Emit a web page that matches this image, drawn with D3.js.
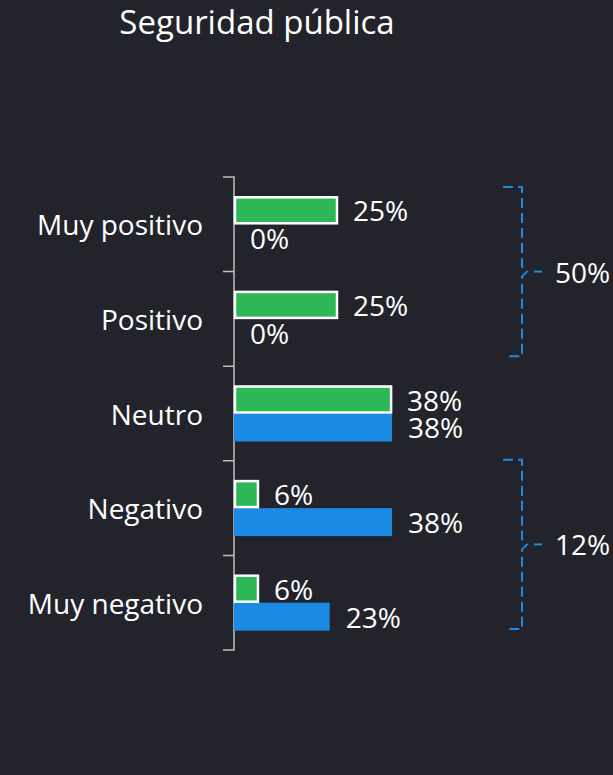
<!DOCTYPE html>
<html>
<head>
<meta charset="utf-8">
<script src="https://cdn.jsdelivr.net/npm/d3@7"></script>
<style>
body { margin: 0; background: #23242b; }
text { font-family: "Open Sans", "Noto Sans", sans-serif; fill: #ffffff; }
</style>
</head>
<body>
<script>
let categories = ["Muy positivo", "Positivo", "Neutro", "Negativo", "Muy negativo"];
let greenValues = [25, 25, 38, 6, 6];
let blueValues = [0, 0, 38, 38, 23];
let groups = [
  { from: "Muy positivo", to: "Positivo", label: "50%" },
  { from: "Negativo", to: "Muy negativo", label: "12%" }
];

let width = 613;
let height = 775;

let svg = d3.select("body").append("svg").attr("width", width).attr("height", height);

svg.append("rect")
.attr("width", width)
.attr("height", height)
.attr("fill", "#23242b");

svg.append("text")
.attr("x", 257)
.attr("y", 34)
.attr("text-anchor", "middle")
.style("font-size", "33px")
.text("Seguridad pública");

let x = d3.scaleLinear().domain([0, 100]).range([234, 234 + 416]);
let y0 = d3.scaleBand().domain(categories).range([177, 650]);
let y1 = d3.scaleBand().domain(["green", "blue"]).range([0, y0.bandwidth()]).paddingOuter(0.69);

// axis line with ticks at band edges
let edges = categories.map(c => y0(c)).concat([y0.range()[1]]);
let axisPath = "M223," + edges[0] + "H234V" + edges[edges.length - 1] + "H223";
edges.slice(1, -1).forEach(e => { axisPath += "M223," + e + "H234"; });
svg.append("path")
.attr("d", axisPath)
.attr("fill", "none")
.attr("stroke", "#bfbfbf")
.attr("stroke-width", 1.5);

svg.selectAll(".cat")
.data(categories)
.enter()
.append("text")
.attr("x", 203)
.attr("y", d => y0(d) + y0.bandwidth() / 2)
.attr("text-anchor", "end")
.attr("dominant-baseline", "central")
.style("font-size", "28px")
.text(d => d);

let rows = categories.map((c, i) => ({ c: c, g: greenValues[i], b: blueValues[i] }));

svg.selectAll(".bblue")
.data(rows)
.enter()
.append("rect")
.attr("x", x(0))
.attr("y", d => y0(d.c) + y1("blue"))
.attr("width", d => x(d.b) - x(0))
.attr("height", y1.bandwidth())
.attr("fill", "#1a8ae5");

svg.selectAll(".bgreen")
.data(rows)
.enter()
.append("rect")
.attr("x", x(0) + 1)
.attr("y", d => y0(d.c) + y1("green") + 1)
.attr("width", d => x(d.g) - x(0) - 2)
.attr("height", y1.bandwidth() - 2)
.attr("fill", "#2db757")
.attr("stroke", "#ffffff")
.attr("stroke-width", 2.5);

svg.selectAll(".lgreen")
.data(rows)
.enter()
.append("text")
.attr("x", d => x(d.g) + 15)
.attr("y", d => y0(d.c) + y1("green") + y1.bandwidth() / 2)
.attr("dominant-baseline", "central")
.style("font-size", "28px")
.text(d => d.g + "%");

svg.selectAll(".lblue")
.data(rows)
.enter()
.append("text")
.attr("x", d => x(d.b) + 16)
.attr("y", d => y0(d.c) + y1("blue") + y1.bandwidth() / 2)
.attr("dominant-baseline", "central")
.style("font-size", "28px")
.text(d => d.b + "%");

// dashed braces, inset from the band edges
let braceInsets = [[10, 10], [-1, 21]];
groups.forEach((g, i) => {
  let top = y0(g.from) + braceInsets[i][0];
  let bot = y0(g.to) + y0.bandwidth() - braceInsets[i][1];
  let mid = (top + bot) / 2;
  let bx = 522;
  svg.append("path")
  .attr("d", "M503," + top + "H" + bx + "V" + (mid - 5) + "L" + (bx + 5) + "," + mid +
    "L" + bx + "," + (mid + 5) + "V" + bot + "H507")
  .attr("fill", "none")
  .attr("stroke", "#1a8ae5")
  .attr("stroke-width", 2)
  .attr("stroke-dasharray", "10,5");
  svg.append("line")
  .attr("x1", 534).attr("x2", 542)
  .attr("y1", mid).attr("y2", mid)
  .attr("stroke", "#1a8ae5")
  .attr("stroke-width", 2);
  svg.append("text")
  .attr("x", 555)
  .attr("y", mid)
  .attr("dominant-baseline", "central")
  .style("font-size", "28px")
  .text(g.label);
});
</script>
</body>
</html>
